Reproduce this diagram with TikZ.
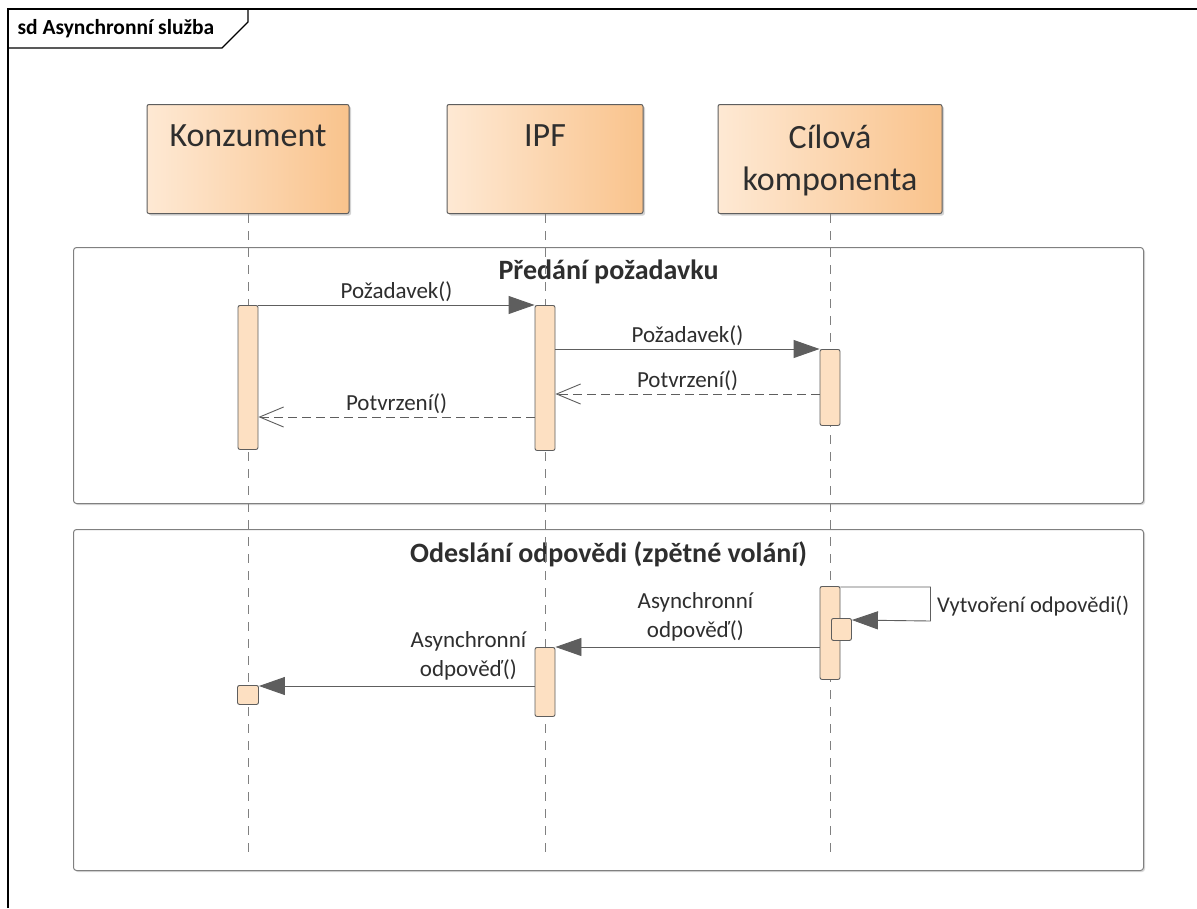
\documentclass[tikz,border=0pt]{standalone}
\usepackage{fontspec}
\setmainfont{Carlito}
\usetikzlibrary{positioning,arrows.meta,shadows}

\definecolor{headleft}{HTML}{FEE9D4}
\definecolor{headright}{HTML}{F9C38C}
\definecolor{actfill}{HTML}{FDE0C2}
\definecolor{edgegray}{HTML}{5E5E5E}
\definecolor{textgray}{HTML}{2E2E2E}

\begin{document}
\begin{tikzpicture}
            [
            x=1pt, y=-1pt,
            lifehead/.style={draw=edgegray, line width=1pt, rounded corners=2pt,
                left color=headleft, right color=headright,
                minimum width=#1, minimum height=109pt, inner sep=0pt,
                drop shadow={shadow xshift=2pt, shadow yshift=-2pt, opacity=0.35}},
            headtext/.style={font=\fontsize{34}{42}\selectfont, text=textgray,
                align=center, anchor=north},
            lifeline/.style={draw=gray, line width=0.9pt, dash pattern=on 9pt off 8pt},
            act/.style={draw=edgegray, line width=0.9pt, fill=actfill, rounded corners=2pt,
                minimum width=20pt, minimum height=#1, inner sep=0pt},
            fragbox/.style={draw=gray, line width=1pt, rounded corners=3pt, fill=white,
                minimum width=1070pt, minimum height=#1, inner sep=0pt,
                drop shadow={shadow xshift=1.5pt, shadow yshift=-1.5pt, opacity=0.3}},
            fragtitle/.style={font=\bfseries\fontsize{28}{32}\selectfont, text=textgray},
            msg/.style={font=\fontsize{23}{29}\selectfont, text=textgray, align=center},
            call/.style={draw=edgegray, line width=0.9pt,
                -{Triangle[length=26pt, width=18pt, fill=edgegray]}},
            reply/.style={draw=edgegray, line width=0.9pt, dash pattern=on 9pt off 5pt,
                -{Straight Barb[length=24pt, width=20pt, line width=0.9pt]}}
            ]
            \useasboundingbox (0,0) rectangle (1197,908);

            % diagram frame
            \draw [line width=1.2pt] (8,908) -- (8,9) -- (1197,9);
            \draw [line width=1.2pt] (8,48) -- (222,48) -- (248,22) -- (248,9);
            \node (title) [anchor=west, font=\bfseries\fontsize{21.5}{24}\selectfont]
                at (14,29) {sd Asynchronní služba};

            % fragments
            \node (frag1) [fragbox=256pt, anchor=north west] at (73,247) {};
            \node (frag2) [fragbox=341pt, anchor=north west] at (73,529) {};
            \node [fragtitle, below=9pt of frag1.north] {Předání požadavku};
            \node [fragtitle, below=9pt of frag2.north] {Odeslání odpovědi (zpětné volání)};

            % lifeline heads
            \node (kon) [lifehead=202pt, anchor=north] at (248,104) {};
            \node (ipf) [lifehead=196pt, right=97pt of kon] {};
            \node (cil) [lifehead=224pt, right=74pt of ipf] {};
            \node [headtext, below=17pt of kon.north] {Konzument};
            \node [headtext, below=17pt of ipf.north] {IPF};
            \node [headtext, below=17pt of cil.north] {Cílová\\komponenta};

            \coordinate (bot) at (0,855);
            \foreach \i in {kon,ipf,cil}
            \draw [lifeline] (\i.south) -- (\i.south |- bot);

            % activations
            \node (kona) [act=144pt, below=91pt of kon] {};
            \node (ipfa) [act=145pt, below=91pt of ipf] {};
            \node (cila) [act=76pt, below=135pt of cil] {};
            \node (cilb) [act=93pt, below=372pt of cil] {};
            \node (cilc) [act=22pt, anchor=north west] at (831,618) {};
            \node (ipfb) [act=69pt, below=433pt of ipf] {};
            \node (konb) [act=19pt, minimum width=21pt, below=471pt of kon] {};

            % messages
            \draw [call] (kona.north east) -- node [msg, above=0pt] {Požadavek()} (ipfa.north west);
            \draw [call] (ipfa.east |- cila.north) -- node [msg, above=0pt] {Požadavek()} (cila.north west);
            \draw [reply] ([yshift=-45pt]cila.north west) -- node [msg, above=0pt] {Potvrzení()}
                ([yshift=-89pt]ipfa.north east);
            \draw [reply] ([yshift=-112pt]ipfa.north west) -- node [msg, above=0pt] {Potvrzení()}
                ([yshift=-112pt]kona.north east);

            \draw [call] ([yshift=-1pt]cilb.north east) -- ++(90,0)
                -- node [msg, right=3pt, pos=0.55, font=\fontsize{22.5}{29}\selectfont] {Vytvoření odpovědi()} ++(0,34)
                -- ([yshift=-2pt]cilc.north east);
            \draw [call] ([yshift=-61pt]cilb.north west) -- node [msg, above=2pt, pos=0.47]
                {Asynchronní\\odpověď()} (ipfb.north east);
            \draw [call] ([yshift=-1pt]ipfb.north west |- konb.north) -- node [msg, above=2pt, pos=0.24]
                {Asynchronní\\odpověď()} ([yshift=-1pt]konb.north east);
        \end{tikzpicture}
\end{document}
